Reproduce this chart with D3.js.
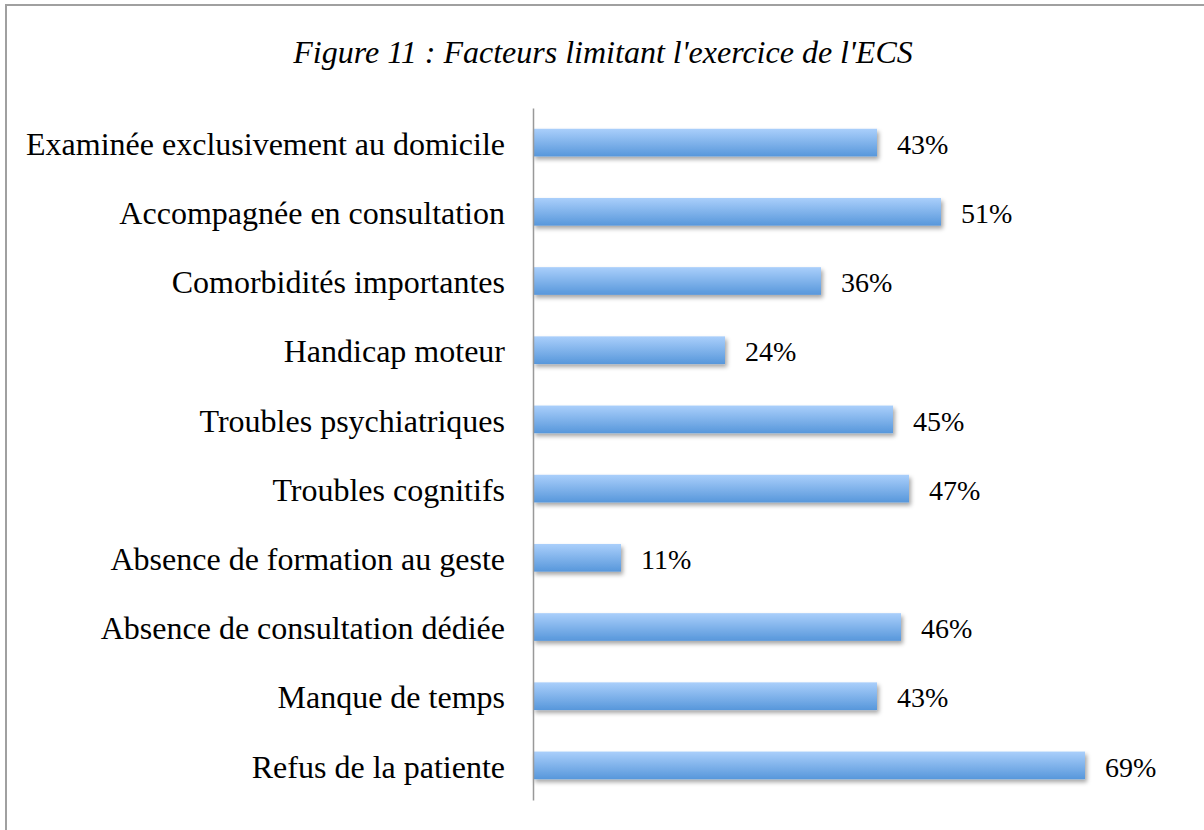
<!DOCTYPE html>
<html><head><meta charset="utf-8">
<script src="https://cdn.jsdelivr.net/npm/d3@7/dist/d3.min.js"></script>
<style>html,body{margin:0;padding:0;background:#fff;overflow:hidden}</style>
</head><body>
<svg id="chart" width="1204" height="830"></svg>
<script>
const categories = [
  "Examinée exclusivement au domicile",
  "Accompagnée en consultation",
  "Comorbidités importantes",
  "Handicap moteur",
  "Troubles psychiatriques",
  "Troubles cognitifs",
  "Absence de formation au geste",
  "Absence de consultation dédiée",
  "Manque de temps",
  "Refus de la patiente"
];
const values = [0.43, 0.51, 0.36, 0.24, 0.45, 0.47, 0.11, 0.46, 0.43, 0.69];
const titleText = "Figure 11 : Facteurs limitant l'exercice de l'ECS";

const svg = d3.select("#chart");
const defs = svg.append("defs");
const grad = defs.append("linearGradient").attr("id","barGrad").attr("x1",0).attr("y1",0).attr("x2",0).attr("y2",1);
grad.append("stop").attr("offset","0%").attr("stop-color","#aacffb");
grad.append("stop").attr("offset","100%").attr("stop-color","#5797db");
const filt = defs.append("filter").attr("id","shadow").attr("x","-5%").attr("y","-30%").attr("width","115%").attr("height","180%");
filt.append("feDropShadow").attr("dx",2).attr("dy",3).attr("stdDeviation",2).attr("flood-color","#000").attr("flood-opacity",0.35);

// frame (left and top edges visible)
svg.append("rect").attr("x",6).attr("y",5).attr("width",1260).attr("height",900)
  .attr("fill","none").attr("stroke","#a0a0a0").attr("stroke-width",2);

svg.append("text").attr("x",603).attr("y",63).attr("text-anchor","middle")
  .attr("font-family","'Liberation Serif', serif").attr("font-style","italic")
  .attr("font-size",32).attr("fill","#000").text(titleText);

const x = d3.scaleLinear().domain([0,0.8]).range([533,1173]);
const y = d3.scaleBand().domain(categories).range([108,800]).paddingInner(0.6).paddingOuter(0.3);

svg.append("g").selectAll("rect").data(categories).join("rect")
  .attr("x", x(0)).attr("y", d => y(d))
  .attr("width", (d,i) => x(values[i]) - x(0)).attr("height", y.bandwidth())
  .attr("fill","url(#barGrad)").attr("filter","url(#shadow)");

const yAxis = d3.axisLeft(y).tickSize(0).tickPadding(28);
const gy = svg.append("g").attr("transform",`translate(${x(0)},0)`).call(yAxis);
gy.select(".domain").attr("stroke","#999").attr("stroke-width",1.5);
gy.selectAll("text").attr("font-family","'Liberation Serif', serif").attr("font-size",32).attr("fill","#000").attr("dy","0.38em");

svg.append("g").selectAll("text").data(categories).join("text")
  .attr("x",(d,i) => x(values[i]) + 20)
  .attr("y", d => y(d) + y.bandwidth()/2)
  .attr("dy","0.4em")
  .attr("font-family","'Liberation Serif', serif").attr("font-size",28).attr("fill","#000")
  .text((d,i) => Math.round(values[i]*100) + "%");
</script>
</body></html>
